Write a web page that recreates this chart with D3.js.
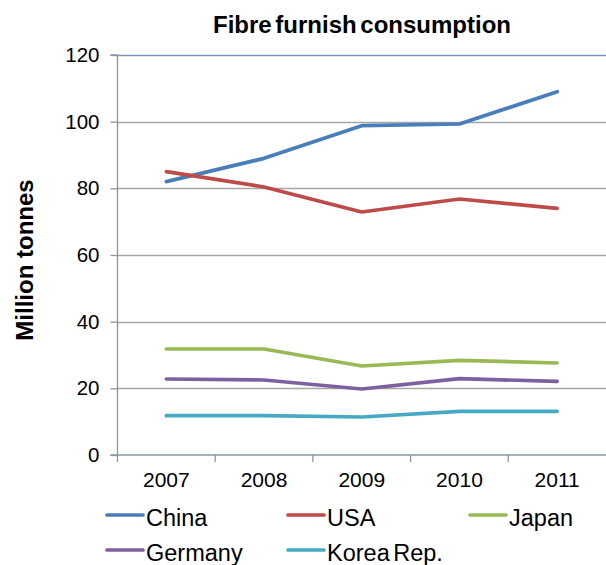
<!DOCTYPE html>
<html>
<head>
<meta charset="utf-8">
<script src="https://cdn.jsdelivr.net/npm/d3@7"></script>
<style>
  body { margin: 0; background: #fff; }
  text { font-family: "Liberation Sans", Arial, sans-serif; }
</style>
</head>
<body>
<svg id="chart" width="606" height="565"></svg>
<script>
const years = ["2007", "2008", "2009", "2010", "2011"];
const china = [82, 89, 98.8, 99.3, 109];
const usa = [85, 80.4, 72.9, 76.8, 74];
const japan = [31.8, 31.8, 26.7, 28.4, 27.6];
const germany = [22.8, 22.5, 19.8, 22.9, 22.1];
const korea = [11.8, 11.8, 11.4, 13.1, 13.1];
const seriesNames = ["China", "USA", "Japan", "Germany", "Korea Rep."];
const yTicks = [0, 20, 40, 60, 80, 100, 120];

const colors = ["#4a7ebb", "#be4b48", "#98b954", "#7d60a0", "#46aac5"];
const allSeries = [china, usa, japan, germany, korea];

const width = 606, height = 565;
const margin = { left: 117.5, top: 55, right: 0, bottom: 110 };
const svg = d3.select("#chart");

const x = d3.scaleBand()
  .domain(years)
  .range([margin.left, width - margin.right]);

const y = d3.scaleLinear()
  .domain([0, 120])
  .range([height - margin.bottom, margin.top]);

// gridlines
svg.append("g")
  .selectAll("line")
  .data(yTicks.filter(d => d > 0))
  .join("line")
  .attr("x1", margin.left)
  .attr("x2", width - margin.right)
  .attr("y1", d => Math.round(y(d)) + 0.5)
  .attr("y2", d => Math.round(y(d)) + 0.5)
  .attr("stroke", d => d == 120 ? "#7896bd" : "#a6a6a6")
  .attr("stroke-width", 1.3);

// y axis
const yAxis = svg.append("g")
  .attr("transform", `translate(${margin.left},0)`)
  .call(d3.axisLeft(y).tickValues(yTicks).tickSize(7).tickPadding(11));
yAxis.selectAll("text").attr("font-size", 20.5).attr("fill", "#000")
  .style("font-family", "Liberation Sans, Arial, sans-serif");
yAxis.selectAll("line, path").attr("stroke", "#8b96a5").attr("stroke-width", 1.3);
yAxis.select(".domain").attr("d", `M-7,${y(120)}H0V${y(0)}H-7`);

// x axis
const xAxis = svg.append("g")
  .attr("transform", `translate(0,${y(0)})`)
  .call(d3.axisBottom(x).tickSize(0).tickPadding(17));
xAxis.selectAll("text").attr("font-size", 21).attr("fill", "#000")
  .style("font-family", "Liberation Sans, Arial, sans-serif");
xAxis.select(".domain").attr("stroke", "#8b96a5").attr("stroke-width", 1.3)
  .attr("d", `M${margin.left},0H${width - margin.right}`);
// tick marks between categories
svg.append("g")
  .selectAll("line")
  .data(years)
  .join("line")
  .attr("x1", d => x(d))
  .attr("x2", d => x(d))
  .attr("y1", y(0))
  .attr("y2", y(0) + 7)
  .attr("stroke", "#8b96a5")
  .attr("stroke-width", 1.3);

// lines
const line = d3.line()
  .x((d, i) => x(years[i]) + x.bandwidth() / 2)
  .y(d => y(d));

svg.append("g")
  .selectAll("path")
  .data(allSeries)
  .join("path")
  .attr("d", d => line(d))
  .attr("fill", "none")
  .attr("stroke", (d, i) => colors[i])
  .attr("stroke-width", 3.7)
  .attr("stroke-linecap", "round")
  .attr("stroke-linejoin", "round");

// title
svg.append("text")
  .attr("x", 362)
  .attr("y", 33)
  .attr("text-anchor", "middle")
  .attr("font-size", 24)
  .attr("font-weight", "bold")
  .attr("word-spacing", -3)
  .text("Fibre furnish consumption");

// y label
svg.append("text")
  .attr("transform", "translate(33,260) rotate(-90)")
  .attr("text-anchor", "middle")
  .attr("font-size", 24)
  .attr("font-weight", "bold")
  .text("Million tonnes");

// legend
const legX = [107, 288, 470];
const legend = svg.append("g")
  .selectAll("g")
  .data(seriesNames)
  .join("g")
  .attr("transform", (d, i) => `translate(${legX[i % 3]},${515 + Math.floor(i / 3) * 35})`);

legend.append("line")
  .attr("x1", 0)
  .attr("x2", 36)
  .attr("stroke", (d, i) => colors[i])
  .attr("stroke-width", 3.7)
  .attr("stroke-linecap", "round");

legend.append("text")
  .attr("x", 39)
  .attr("y", 10.5)
  .attr("font-size", 23.5)
  .attr("word-spacing", -3)
  .text(d => d);
</script>
</body>
</html>
